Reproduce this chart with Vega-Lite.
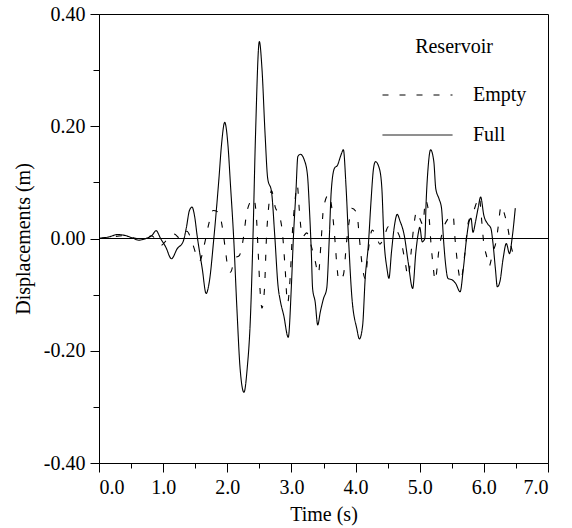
{
  "$schema": "https://vega.github.io/schema/vega-lite/v6.json",
  "width": 449,
  "height": 449,
  "autosize": {"type": "none"},
  "padding": {"left": 99, "top": 14, "right": 24, "bottom": 65},
  "background": "white",
  "config": {
    "font": "Liberation Serif",
    "view": {"stroke": "black", "strokeWidth": 1},
    "axis": {
      "labelFont": "Liberation Serif", "titleFont": "Liberation Serif",
      "labelFontSize": 20, "titleFontSize": 20, "titleFontWeight": "normal",
      "labelColor": "black", "titleColor": "black", "tickColor": "black", "domainColor": "black",
      "grid": false, "tickWidth": 1, "domainWidth": 1
    },
    "legend": {
      "labelFont": "Liberation Serif", "titleFont": "Liberation Serif",
      "labelFontSize": 20, "titleFontSize": 20, "titleFontWeight": "normal",
      "labelColor": "black", "titleColor": "black"
    }
  },
  "layer": [
    {
      "data": {"values": [
        {"t":0,"d":0,"s":"Full"},{"t":0.16,"d":0.003,"s":"Full"},{"t":0.29,"d":0.007,"s":"Full"},{"t":0.42,"d":0.005,"s":"Full"},
        {"t":0.52,"d":0.001,"s":"Full"},{"t":0.62,"d":-0.003,"s":"Full"},{"t":0.73,"d":0,"s":"Full"},{"t":0.83,"d":0.006,"s":"Full"},
        {"t":0.89,"d":0.014,"s":"Full"},{"t":0.96,"d":0,"s":"Full"},{"t":1.04,"d":-0.015,"s":"Full"},{"t":1.13,"d":-0.036,"s":"Full"},
        {"t":1.22,"d":-0.018,"s":"Full"},{"t":1.31,"d":-0.006,"s":"Full"},{"t":1.36,"d":0.018,"s":"Full"},{"t":1.41,"d":0.05,"s":"Full"},
        {"t":1.45,"d":0.056,"s":"Full"},{"t":1.49,"d":0.04,"s":"Full"},{"t":1.53,"d":0.005,"s":"Full"},{"t":1.61,"d":-0.054,"s":"Full"},
        {"t":1.67,"d":-0.098,"s":"Full"},{"t":1.72,"d":-0.077,"s":"Full"},{"t":1.79,"d":0,"s":"Full"},{"t":1.87,"d":0.107,"s":"Full"},
        {"t":1.91,"d":0.167,"s":"Full"},{"t":1.96,"d":0.207,"s":"Full"},{"t":2.01,"d":0.167,"s":"Full"},{"t":2.05,"d":0.095,"s":"Full"},
        {"t":2.10,"d":0,"s":"Full"},{"t":2.15,"d":-0.125,"s":"Full"},{"t":2.20,"d":-0.232,"s":"Full"},{"t":2.26,"d":-0.274,"s":"Full"},
        {"t":2.31,"d":-0.232,"s":"Full"},{"t":2.36,"d":-0.143,"s":"Full"},{"t":2.40,"d":0,"s":"Full"},{"t":2.44,"d":0.184,"s":"Full"},
        {"t":2.50,"d":0.351,"s":"Full"},{"t":2.54,"d":0.304,"s":"Full"},{"t":2.59,"d":0.184,"s":"Full"},{"t":2.63,"d":0.107,"s":"Full"},
        {"t":2.69,"d":0.083,"s":"Full"},{"t":2.74,"d":0.005,"s":"Full"},{"t":2.79,"d":-0.083,"s":"Full"},{"t":2.83,"d":-0.113,"s":"Full"},
        {"t":2.88,"d":-0.137,"s":"Full"},{"t":2.95,"d":-0.176,"s":"Full"},{"t":3.00,"d":-0.083,"s":"Full"},{"t":3.03,"d":0,"s":"Full"},
        {"t":3.07,"d":0.083,"s":"Full"},{"t":3.10,"d":0.146,"s":"Full"},{"t":3.14,"d":0.15,"s":"Full"},{"t":3.20,"d":0.14,"s":"Full"},
        {"t":3.25,"d":0.113,"s":"Full"},{"t":3.28,"d":0.054,"s":"Full"},{"t":3.31,"d":-0.024,"s":"Full"},{"t":3.33,"d":-0.089,"s":"Full"},
        {"t":3.37,"d":-0.113,"s":"Full"},{"t":3.41,"d":-0.154,"s":"Full"},{"t":3.45,"d":-0.131,"s":"Full"},{"t":3.50,"d":-0.107,"s":"Full"},
        {"t":3.55,"d":-0.089,"s":"Full"},{"t":3.59,"d":0,"s":"Full"},{"t":3.62,"d":0.083,"s":"Full"},{"t":3.67,"d":0.125,"s":"Full"},
        {"t":3.72,"d":0.131,"s":"Full"},{"t":3.77,"d":0.148,"s":"Full"},{"t":3.81,"d":0.158,"s":"Full"},{"t":3.85,"d":0.095,"s":"Full"},
        {"t":3.89,"d":0,"s":"Full"},{"t":3.94,"d":-0.101,"s":"Full"},{"t":4.02,"d":-0.161,"s":"Full"},{"t":4.06,"d":-0.179,"s":"Full"},
        {"t":4.11,"d":-0.155,"s":"Full"},{"t":4.15,"d":-0.071,"s":"Full"},{"t":4.20,"d":-0.01,"s":"Full"},{"t":4.24,"d":0.065,"s":"Full"},
        {"t":4.28,"d":0.125,"s":"Full"},{"t":4.31,"d":0.137,"s":"Full"},{"t":4.37,"d":0.125,"s":"Full"},{"t":4.41,"d":0.089,"s":"Full"},
        {"t":4.44,"d":0.005,"s":"Full"},{"t":4.49,"d":-0.054,"s":"Full"},{"t":4.52,"d":-0.071,"s":"Full"},{"t":4.56,"d":-0.024,"s":"Full"},
        {"t":4.60,"d":0.018,"s":"Full"},{"t":4.65,"d":0.043,"s":"Full"},{"t":4.69,"d":0.032,"s":"Full"},{"t":4.76,"d":0.005,"s":"Full"},
        {"t":4.82,"d":-0.042,"s":"Full"},{"t":4.89,"d":-0.089,"s":"Full"},{"t":4.94,"d":-0.024,"s":"Full"},{"t":4.98,"d":0.011,"s":"Full"},
        {"t":5.00,"d":0.02,"s":"Full"},{"t":5.04,"d":-0.006,"s":"Full"},{"t":5.08,"d":0,"s":"Full"},{"t":5.10,"d":0.065,"s":"Full"},
        {"t":5.13,"d":0.125,"s":"Full"},{"t":5.17,"d":0.158,"s":"Full"},{"t":5.22,"d":0.137,"s":"Full"},{"t":5.25,"d":0.089,"s":"Full"},
        {"t":5.30,"d":0.071,"s":"Full"},{"t":5.34,"d":0.054,"s":"Full"},{"t":5.37,"d":0,"s":"Full"},{"t":5.40,"d":-0.042,"s":"Full"},
        {"t":5.44,"d":-0.071,"s":"Full"},{"t":5.51,"d":-0.074,"s":"Full"},{"t":5.56,"d":-0.08,"s":"Full"},{"t":5.63,"d":-0.095,"s":"Full"},
        {"t":5.68,"d":-0.054,"s":"Full"},{"t":5.73,"d":0,"s":"Full"},{"t":5.77,"d":0.03,"s":"Full"},{"t":5.80,"d":0.036,"s":"Full"},
        {"t":5.83,"d":0.011,"s":"Full"},{"t":5.87,"d":0.03,"s":"Full"},{"t":5.91,"d":0.054,"s":"Full"},{"t":5.95,"d":0.074,"s":"Full"},
        {"t":6.00,"d":0.041,"s":"Full"},{"t":6.06,"d":0.026,"s":"Full"},{"t":6.11,"d":0.018,"s":"Full"},{"t":6.14,"d":-0.006,"s":"Full"},
        {"t":6.18,"d":-0.054,"s":"Full"},{"t":6.21,"d":-0.086,"s":"Full"},{"t":6.25,"d":-0.077,"s":"Full"},{"t":6.30,"d":-0.036,"s":"Full"},
        {"t":6.35,"d":-0.009,"s":"Full"},{"t":6.40,"d":-0.027,"s":"Full"},{"t":6.44,"d":0,"s":"Full"},{"t":6.49,"d":0.054,"s":"Full"}
      ]},
      "mark": {"type": "line", "color": "black", "strokeWidth": 1.1, "interpolate": "monotone"},
      "encoding": {
        "x": {"field": "t", "type": "quantitative", "scale": {"domain": [0, 7], "nice": false},
          "axis": {"orient": "bottom", "values": [0,1,2,3,4,5,6,7], "format": ".1f", "tickSize": 9, "labelPadding": 5, "title": "Time (s)", "titlePadding": 7}},
        "y": {"field": "d", "type": "quantitative", "scale": {"domain": [-0.4, 0.4], "nice": false},
          "axis": {"orient": "left", "values": [-0.4,-0.2,0,0.2,0.4], "labelExpr": "replace(format(datum.value, '.2f'), '\u2212', '-')", "tickSize": 9, "labelPadding": 5, "title": "Displacements (m)", "titlePadding": 10}},
        "strokeDash": {"field": "s", "type": "nominal",
          "scale": {"domain": ["Empty", "Full"], "range": [[6, 11], [1, 0]]},
          "legend": {"title": "Reservoir", "orient": "none", "legendX": 283, "legendY": 23, "padding": 0,
            "symbolType": "stroke", "symbolSize": 4900, "symbolStrokeWidth": 1, "symbolStrokeColor": "black",
            "clipHeight": 20, "rowPadding": 20, "titlePadding": 28, "labelOffset": 20, "titleAnchor": "middle"}}
      }
    },
    {
      "data": {"values": [
        {"t":0,"d":0,"s":"Empty"},{"t":0.2,"d":0.003,"s":"Empty"},{"t":0.4,"d":0.005,"s":"Empty"},{"t":0.55,"d":0.001,"s":"Empty"},
        {"t":0.7,"d":-0.001,"s":"Empty"},{"t":0.82,"d":0.005,"s":"Empty"},{"t":0.9,"d":-0.004,"s":"Empty"},{"t":0.97,"d":-0.012,"s":"Empty"},
        {"t":1.06,"d":-0.002,"s":"Empty"},{"t":1.17,"d":0.008,"s":"Empty"},{"t":1.27,"d":0,"s":"Empty"},{"t":1.37,"d":0.013,"s":"Empty"},
        {"t":1.45,"d":-0.006,"s":"Empty"},{"t":1.52,"d":-0.03,"s":"Empty"},{"t":1.57,"d":-0.04,"s":"Empty"},{"t":1.64,"d":-0.012,"s":"Empty"},
        {"t":1.71,"d":0.025,"s":"Empty"},{"t":1.78,"d":0.05,"s":"Empty"},{"t":1.86,"d":0.047,"s":"Empty"},{"t":1.93,"d":0.015,"s":"Empty"},
        {"t":1.97,"d":-0.02,"s":"Empty"},{"t":2.01,"d":-0.052,"s":"Empty"},{"t":2.05,"d":-0.06,"s":"Empty"},{"t":2.12,"d":-0.035,"s":"Empty"},
        {"t":2.19,"d":-0.03,"s":"Empty"},{"t":2.25,"d":0,"s":"Empty"},{"t":2.31,"d":0.05,"s":"Empty"},{"t":2.41,"d":0.071,"s":"Empty"},
        {"t":2.45,"d":0.045,"s":"Empty"},{"t":2.48,"d":-0.02,"s":"Empty"},{"t":2.51,"d":-0.09,"s":"Empty"},{"t":2.54,"d":-0.124,"s":"Empty"},
        {"t":2.58,"d":-0.09,"s":"Empty"},{"t":2.61,"d":0,"s":"Empty"},{"t":2.64,"d":0.05,"s":"Empty"},{"t":2.69,"d":0.085,"s":"Empty"},
        {"t":2.75,"d":0.055,"s":"Empty"},{"t":2.81,"d":0.042,"s":"Empty"},{"t":2.86,"d":0.01,"s":"Empty"},{"t":2.9,"d":-0.05,"s":"Empty"},
        {"t":2.94,"d":-0.115,"s":"Empty"},{"t":2.98,"d":-0.07,"s":"Empty"},{"t":3.02,"d":0.02,"s":"Empty"},{"t":3.05,"d":0.06,"s":"Empty"},
        {"t":3.09,"d":0.095,"s":"Empty"},{"t":3.13,"d":0.04,"s":"Empty"},{"t":3.17,"d":0.003,"s":"Empty"},{"t":3.24,"d":0.01,"s":"Empty"},
        {"t":3.3,"d":-0.01,"s":"Empty"},{"t":3.37,"d":-0.04,"s":"Empty"},{"t":3.42,"d":-0.063,"s":"Empty"},{"t":3.46,"d":-0.01,"s":"Empty"},
        {"t":3.5,"d":0.054,"s":"Empty"},{"t":3.58,"d":0.078,"s":"Empty"},{"t":3.64,"d":0.045,"s":"Empty"},{"t":3.68,"d":-0.005,"s":"Empty"},
        {"t":3.71,"d":-0.05,"s":"Empty"},{"t":3.74,"d":-0.075,"s":"Empty"},{"t":3.81,"d":-0.065,"s":"Empty"},{"t":3.86,"d":-0.006,"s":"Empty"},
        {"t":3.9,"d":0.03,"s":"Empty"},{"t":3.94,"d":0.054,"s":"Empty"},{"t":4.02,"d":0.045,"s":"Empty"},{"t":4.06,"d":0,"s":"Empty"},
        {"t":4.1,"d":-0.045,"s":"Empty"},{"t":4.15,"d":-0.071,"s":"Empty"},{"t":4.2,"d":-0.02,"s":"Empty"},{"t":4.26,"d":0.015,"s":"Empty"},
        {"t":4.32,"d":0.005,"s":"Empty"},{"t":4.38,"d":-0.01,"s":"Empty"},{"t":4.45,"d":0.005,"s":"Empty"},{"t":4.51,"d":0.021,"s":"Empty"},
        {"t":4.58,"d":0.018,"s":"Empty"},{"t":4.64,"d":0.014,"s":"Empty"},{"t":4.72,"d":-0.01,"s":"Empty"},{"t":4.77,"d":-0.04,"s":"Empty"},
        {"t":4.82,"d":-0.068,"s":"Empty"},{"t":4.87,"d":-0.02,"s":"Empty"},{"t":4.91,"d":0.024,"s":"Empty"},{"t":4.95,"d":0.048,"s":"Empty"},
        {"t":5.0,"d":0.036,"s":"Empty"},{"t":5.05,"d":0.025,"s":"Empty"},{"t":5.09,"d":0.068,"s":"Empty"},{"t":5.14,"d":0.045,"s":"Empty"},
        {"t":5.18,"d":-0.015,"s":"Empty"},{"t":5.21,"d":-0.05,"s":"Empty"},{"t":5.24,"d":-0.075,"s":"Empty"},{"t":5.3,"d":-0.02,"s":"Empty"},
        {"t":5.35,"d":0.01,"s":"Empty"},{"t":5.44,"d":0.035,"s":"Empty"},{"t":5.52,"d":0.042,"s":"Empty"},{"t":5.55,"d":0,"s":"Empty"},
        {"t":5.59,"d":-0.045,"s":"Empty"},{"t":5.64,"d":-0.075,"s":"Empty"},{"t":5.7,"d":-0.03,"s":"Empty"},{"t":5.76,"d":0.03,"s":"Empty"},
        {"t":5.83,"d":0.045,"s":"Empty"},{"t":5.89,"d":0.065,"s":"Empty"},{"t":5.93,"d":0.074,"s":"Empty"},{"t":5.96,"d":0.04,"s":"Empty"},
        {"t":6.0,"d":-0.01,"s":"Empty"},{"t":6.04,"d":-0.03,"s":"Empty"},{"t":6.08,"d":-0.05,"s":"Empty"},{"t":6.14,"d":-0.024,"s":"Empty"},
        {"t":6.19,"d":-0.006,"s":"Empty"},{"t":6.22,"d":0.018,"s":"Empty"},{"t":6.27,"d":0.058,"s":"Empty"},{"t":6.33,"d":0.04,"s":"Empty"},
        {"t":6.38,"d":0.015,"s":"Empty"},{"t":6.41,"d":-0.006,"s":"Empty"},{"t":6.45,"d":-0.025,"s":"Empty"},{"t":6.49,"d":-0.04,"s":"Empty"}
      ]},
      "mark": {"type": "line", "color": "black", "strokeWidth": 1.1, "interpolate": "monotone"},
      "encoding": {
        "x": {"field": "t", "type": "quantitative",
          "axis": {"orient": "bottom", "values": [0.5,1.5,2.5,3.5,4.5,5.5,6.5], "tickSize": 5, "labels": false, "domain": false, "title": null}},
        "y": {"field": "d", "type": "quantitative",
          "axis": {"orient": "left", "values": [-0.3,-0.1,0.1,0.3], "tickSize": 6, "labels": false, "domain": false, "title": null}},
        "strokeDash": {"field": "s", "type": "nominal"}
      }
    },
    {
      "data": {"values": [{"v": 0}]},
      "mark": {"type": "rule", "color": "black", "strokeWidth": 1},
      "encoding": {"y": {"field": "v", "type": "quantitative", "axis": null}}
    }
  ],
  "resolve": {"axis": {"x": "independent", "y": "independent"}}
}
